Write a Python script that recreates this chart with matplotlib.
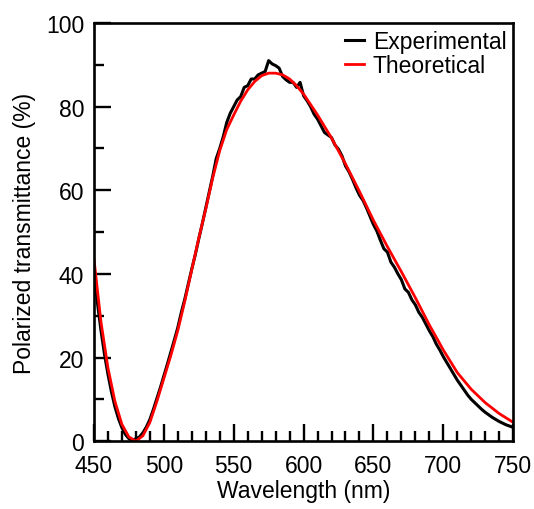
import numpy as np
import matplotlib
matplotlib.use("Agg")
import matplotlib.pyplot as plt
from matplotlib.ticker import MultipleLocator

plt.rcParams["font.family"] = ["Liberation Sans", "DejaVu Sans"]

# theoretical curve (red), read at 5/10 nm steps
wl_theory = [450, 455, 460, 465, 470, 475, 480, 485, 490, 495, 500, 505, 510,
             515, 520, 525, 530, 535, 540, 545, 550, 555, 560, 565, 570, 575,
             580, 585, 590, 595, 600, 610, 620, 630, 640, 650, 660, 670, 680,
             690, 700, 710, 720, 730, 740, 750]
t_theory = [43.5, 28.5, 17.5, 9.5, 4.0, 1.0, 0.0, 1.3, 4.5, 9.5, 15.0, 20.5, 26.5,
            33.5, 41.0, 48.5, 55.5, 63.0, 69.5, 74.5, 78.0, 81.3, 84.0, 86.0, 87.4, 88.0,
            88.0, 87.6, 86.6, 85.0, 83.0, 78.0, 72.5, 66.3, 59.7, 52.8, 46.5, 40.5, 34.3,
            27.8, 21.8, 16.4, 12.4, 9.2, 6.6, 4.5]

# experimental curve (black), 2.5 nm steps
wl_exp = [450 + 2.5 * i for i in range(121)]
t_exp = [40.0, 33.0, 26.5, 20.8, 16.0, 11.8, 8.2, 5.4, 3.2, 1.6,
         0.6, 0.2, 0.6, 1.0, 2.0, 3.4, 5.2, 7.6, 10.2, 12.8,
         15.6, 18.4, 21.3, 24.2, 27.2, 30.8, 34.0, 37.6, 41.2, 44.6,
         48.4, 52.0, 55.8, 59.6, 63.4, 67.6, 70.0, 72.8, 76.2, 78.4,
         80.0, 81.6, 82.4, 84.6, 85.0, 86.6, 86.6, 87.6, 88.0, 88.4,
         91.0, 90.2, 89.8, 89.2, 87.2, 86.4, 85.8, 85.8, 84.6, 85.8,
         82.6, 81.4, 80.0, 78.2, 77.0, 75.4, 73.8, 73.2, 72.6, 70.8,
         69.8, 68.2, 65.8, 64.4, 62.6, 60.6, 58.8, 57.6, 55.8, 53.8,
         51.8, 50.2, 48.0, 46.0, 45.2, 42.8, 41.6, 40.0, 38.6, 36.4,
         35.6, 33.8, 32.6, 30.8, 29.6, 28.0, 26.4, 25.0, 23.2, 21.8,
         20.2, 18.8, 17.4, 16.0, 14.6, 13.4, 12.2, 11.0, 10.0, 9.2,
         8.4, 7.6, 6.9, 6.3, 5.7, 5.2, 4.7, 4.3, 3.9, 3.6, 3.3]

fig = plt.figure(figsize=(5.34, 5.10), dpi=100)
ax = fig.add_axes([0.176, 0.133, 0.785, 0.820])

ax.plot(wl_exp, t_exp, color="black", lw=2.2, label="Experimental")
ax.plot(wl_theory, t_theory, color="#ff0000", lw=2.0, label="Theoretical")

ax.set_xlim(450, 750)
ax.set_ylim(0, 100)
ax.xaxis.set_major_locator(MultipleLocator(50))
ax.xaxis.set_minor_locator(MultipleLocator(10))
ax.yaxis.set_major_locator(MultipleLocator(20))
ax.yaxis.set_minor_locator(MultipleLocator(10))

ax.tick_params(which="both", direction="in", top=False, right=False,
               labelsize=16.5, width=1.7, color="black")
ax.tick_params(which="major", length=12)
ax.tick_params(which="minor", length=7)
ax.tick_params(axis="x", which="major", pad=9)
ax.tick_params(axis="y", which="major", pad=7)
for sp in ax.spines.values():
    sp.set_linewidth(1.9)

ax.set_xlabel("Wavelength (nm)", fontsize=16.5, labelpad=2)
ax.set_ylabel("Polarized transmittance (%)", fontsize=16.5, labelpad=7)

ax.legend(loc="upper right", frameon=False, fontsize=16.5, handlelength=0.8,
          handletextpad=0.4, borderaxespad=0.1, borderpad=0.2, labelspacing=0.05)

fig.savefig("out.png", dpi=100)
